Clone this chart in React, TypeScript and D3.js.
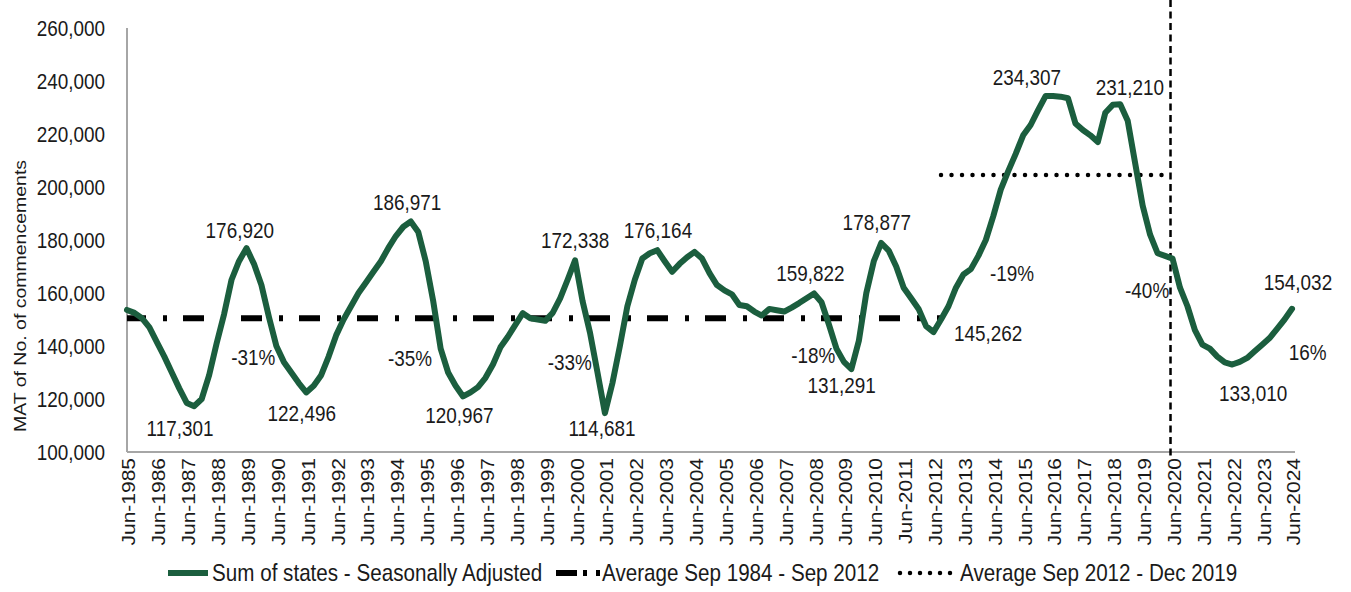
import React from 'react';
import * as d3 from 'd3';

// quarterly MAT values, Jun-1985 .. Jun-2024
const commencements = [
  153600, 152500, 150500, 147000,
  141500, 136000, 130000, 124000,
  118500, 117301, 120000, 129000,
  141000, 152000, 165000, 172000,
  176920, 171000, 163000, 151000,
  140000, 134000, 130000, 126000,
  122496, 125000, 129000, 136000,
  144000, 150000, 155000, 160000,
  164000, 168000, 172000, 177000,
  181500, 185000, 186971, 183000,
  172000, 157000, 139000, 130000,
  125000, 120967, 122500, 124500,
  128000, 133000, 139500, 143500,
  148000, 152400, 150500, 150000,
  149500, 152500, 158000, 165000,
  172338, 157000, 145000, 130000,
  114681, 126000, 140000, 155000,
  165000, 173000, 175000, 176164,
  172000, 168000, 171000, 173500,
  175500, 173000, 167500, 163000,
  161000, 159500, 155500, 155000,
  153000, 151500, 154000, 153500,
  153000, 154500, 156200, 158000,
  159822, 156500, 148000, 139000,
  134000, 131291, 142000, 160000,
  172000, 178877, 176000, 170000,
  162000, 158000, 154000, 147500,
  145262, 150000, 155000, 162000,
  167000, 169000, 174000, 180000,
  189000, 199000, 206000, 212500,
  219500, 223400, 229000, 234307,
  234300, 234100, 233500, 224000,
  221500, 219500, 217000, 228000,
  231000, 231210, 225000, 209000,
  193000, 182000, 175000, 174000,
  173000, 162000, 155000, 146000,
  140500, 139000, 136000, 133800,
  133010, 134000, 135500, 138000,
  140500, 143000, 146500, 150000,
  154032,
];

const tickLabels = [
  'Jun-1985', 'Jun-1986', 'Jun-1987', 'Jun-1988', 'Jun-1989', 'Jun-1990', 'Jun-1991', 'Jun-1992',
  'Jun-1993', 'Jun-1994', 'Jun-1995', 'Jun-1996', 'Jun-1997', 'Jun-1998', 'Jun-1999', 'Jun-2000',
  'Jun-2001', 'Jun-2002', 'Jun-2003', 'Jun-2004', 'Jun-2005', 'Jun-2006', 'Jun-2007', 'Jun-2008',
  'Jun-2009', 'Jun-2010', 'Jun-2011', 'Jun-2012', 'Jun-2013', 'Jun-2014', 'Jun-2015', 'Jun-2016',
  'Jun-2017', 'Jun-2018', 'Jun-2019', 'Jun-2020', 'Jun-2021', 'Jun-2022', 'Jun-2023', 'Jun-2024',
];

const yTicks = [100000, 120000, 140000, 160000, 180000, 200000, 220000, 240000, 260000];

// averages: value, first quarter index, last quarter index
const avgOld = 150500;
const avgOldRange = [0, 109];
const avgNew = 204500;
const avgNewRange = [109, 139];
const covidIdx = 140;

// annotation texts anchored in data space (quarter index, value)
const noteText = [
  '117,301', '176,920', '-31%', '122,496', '186,971', '-35%', '120,967', '172,338', '-33%',
  '114,681', '176,164', '159,822', '-18%', '131,291', '178,877', '145,262', '-19%', '234,307',
  '231,210', '-40%', '133,010', '154,032', '16%',
];
const noteIdx = [
  7.1, 15.1, 16.9, 23.4, 37.5, 37.9, 44.5, 60.0, 59.3,
  63.6, 71.1, 91.5, 91.9, 95.7, 100.4, 115.3, 118.5, 120.5,
  134.3, 136.6, 150.8, 156.8, 158.1,
];
const noteVal = [
  109060, 183770, 135850, 114720, 194340, 135470, 113960, 180000, 133960,
  109060, 183770, 167550, 136600, 125280, 186790, 144910, 167550, 241510,
  237740, 161130, 122260, 164150, 137740,
];

const legendNames = [
  'Sum of states - Seasonally Adjusted',
  'Average Sep 1984 - Sep 2012',
  'Average Sep 2012 - Dec 2019',
];

const GREEN = '#1b5e3e';
const FONT = "'Liberation Sans', Arial, sans-serif";
const SX = 0.86; // horizontal squeeze of the source picture

const W = 1351;
const H = 592;
const left = 127;
const right = 1292;
const top = 28;
const bottom = 452;

const HText = ({ x, y, text, size = 22, anchor = 'middle' }: any) => (
  <g transform={`translate(${x},${y}) scale(${SX},1)`}>
    <text textAnchor={anchor} dominantBaseline="central" fontSize={size} fontFamily={FONT} fill="#1a1a1a">
      {text}
    </text>
  </g>
);

const App = () => {
  const x = d3.scaleLinear().domain([0, commencements.length - 1]).range([left, right]);
  const y = d3.scaleLinear().domain([100000, 260000]).range([bottom, top]);

  const line = d3.line<number>()
    .x((d, i) => x(i))
    .y(d => y(d));

  const legendY = 573;

  return (
    <svg width={W} height={H} style={{ position: 'absolute', left: 0, top: 0, background: '#fff' }}>
      <rect width={W} height={H} fill="#fff" />

      {/* axes */}
      <line x1={left} x2={left} y1={top} y2={bottom} stroke="#a6a6a6" strokeWidth={2} />
      <line x1={left} x2={right + 3} y1={bottom} y2={bottom} stroke="#a6a6a6" strokeWidth={2} />

      {yTicks.map(t => (
        <HText key={t} x={105} y={y(t)} text={d3.format(',')(t)} anchor="end" />
      ))}

      {tickLabels.map((t, i) => (
        <g key={t} transform={`translate(${x(i * 4) + 2},458) rotate(-90) scale(1,${SX})`}>
          <text textAnchor="end" dominantBaseline="central" fontSize={21} fontFamily={FONT} fill="#1a1a1a">{t}</text>
        </g>
      ))}

      <g transform={`translate(20,296) rotate(-90) scale(1,${SX})`}>
        <text textAnchor="middle" dominantBaseline="central" fontSize={19.5} fontFamily={FONT} fill="#1a1a1a">
          MAT of No. of commencements
        </text>
      </g>

      {/* averages */}
      <line x1={x(avgOldRange[0])} x2={x(avgOldRange[1])} y1={y(avgOld)} y2={y(avgOld)}
        stroke="#000" strokeWidth={6} strokeDasharray="21,17,4,16" strokeDashoffset={2} />
      <line x1={x(avgNewRange[0])} x2={x(avgNewRange[1])} y1={y(avgNew)} y2={y(avgNew)}
        stroke="#000" strokeWidth={4.5} strokeDasharray="0,10.5" strokeLinecap="round" />

      {/* Jun-2020 marker */}
      <line x1={x(covidIdx) - 2} x2={x(covidIdx) - 2} y1={0} y2={458}
        stroke="#000" strokeWidth={2.5} strokeDasharray="7,4.5" />

      <path d={line(commencements) || ''} fill="none" stroke={GREEN} strokeWidth={6}
        strokeLinejoin="round" strokeLinecap="round" />

      {noteText.map((t, i) => (
        <HText key={t} x={x(noteIdx[i])} y={y(noteVal[i])} text={t} />
      ))}

      {/* legend */}
      <line x1={168} x2={208} y1={legendY} y2={legendY} stroke={GREEN} strokeWidth={6} />
      <HText x={212} y={legendY} text={legendNames[0]} anchor="start" size={24} />
      <line x1={556} x2={600} y1={legendY} y2={legendY} stroke="#000" strokeWidth={6}
        strokeDasharray="21,6,4,9,4,50" />
      <HText x={602} y={legendY} text={legendNames[1]} anchor="start" size={24} />
      <line x1={900} x2={952} y1={legendY} y2={legendY} stroke="#000" strokeWidth={4.5}
        strokeDasharray="0,10" strokeLinecap="round" />
      <HText x={960} y={legendY} text={legendNames[2]} anchor="start" size={24} />
    </svg>
  );
};

export default App;
